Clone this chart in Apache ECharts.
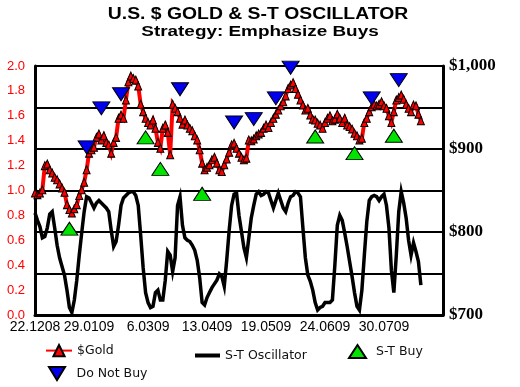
<!DOCTYPE html>
<html><head><meta charset="utf-8">
<script src="https://cdn.jsdelivr.net/npm/echarts@6/dist/echarts.min.js"></script>
<style>html,body{margin:0;padding:0;background:#fff}#c{width:520px;height:387px}</style>
</head><body><div id="c"></div><script>
const titleText = "U.S. $ GOLD & S-T OSCILLATOR";
const subtitleText = "Strategy: Emphasize Buys";
const categoryCount = 167;
const tickIndex = [0, 22, 46, 70, 94, 118, 142];
const tickLabels = ["22.1208", "29.0109", "6.0309", "13.0409", "19.0509", "24.0609", "30.0709"];
const gold = [
  847,845,847,851,880,882,875,871,866,863,
  858,853,848,833,827,823,828,833,844,851,
  860,875,895,899,902,914,918,911,916,908,
  905,895,908,914,937,941,937,959,981,988,
  985,983,976,954,945,937,932,929,935,925,
  908,901,925,929,920,893,954,949,945,937,
  930,935,929,925,922,916,911,899,883,875,
  878,881,887,890,883,875,873,881,888,896,
  905,907,901,895,890,887,889,911,910,912,
  916,918,920,925,929,926,932,937,942,947,
  952,957,964,973,977,980,973,966,959,953,
  947,949,941,936,935,931,929,925,932,937,
  940,934,936,942,937,932,937,929,927,924,
  919,916,911,913,932,937,945,951,954,952,
  954,957,952,949,940,932,945,959,962,965,
  960,954,949,945,953,952,942,934
];
const oscillator = [
  0.82,0.76,0.71,0.62,0.63,0.70,0.81,0.83,0.70,0.56,
  0.46,0.39,0.32,0.20,0.06,0.02,0.12,0.28,0.48,0.66,
  0.83,0.95,0.94,0.90,0.86,0.90,0.92,0.90,0.88,0.86,
  0.83,0.68,0.55,0.59,0.72,0.88,0.94,0.96,0.98,0.99,
  0.99,0.96,0.88,0.64,0.38,0.18,0.10,0.06,0.07,0.18,
  0.20,0.12,0.12,0.28,0.51,0.48,0.35,0.46,0.88,0.95,
  0.72,0.62,0.60,0.59,0.56,0.52,0.44,0.30,0.10,0.08,
  0.14,0.18,0.22,0.25,0.28,0.33,0.31,0.23,0.44,0.68,
  0.88,0.97,0.98,0.80,0.67,0.54,0.46,0.62,0.78,0.88,
  0.97,0.99,0.96,0.97,0.99,0.98,0.92,0.86,0.92,0.98,
  0.92,0.86,0.83,0.90,0.95,0.96,0.99,0.98,0.95,0.70,
  0.46,0.32,0.27,0.20,0.10,0.04,0.06,0.07,0.10,0.10,
  0.10,0.12,0.40,0.72,0.80,0.76,0.66,0.55,0.43,0.31,
  0.18,0.07,0.04,0.20,0.48,0.75,0.92,0.95,0.96,0.95,
  0.92,0.95,0.97,0.88,0.70,0.36,0.18,0.48,0.83,0.99,
  0.90,0.78,0.60,0.48,0.58,0.51,0.43,0.24
];
const buyIndex = [14, 45, 51, 68, 114, 130, 146];
const buyValue = [804, 914, 876, 846, 915, 895, 916];
const noBuyIndex = [21, 27, 35, 59, 81, 89, 98, 104, 137, 148];
const noBuyValue = [902, 949, 966, 972, 932, 936, 961, 998, 961, 983];

const categories = [];
for (let i = 0; i < categoryCount; i++) categories.push(String(i));
const buyPts = buyIndex.map((x, k) => [x, buyValue[k]]);
const noBuyPts = noBuyIndex.map((x, k) => [x, noBuyValue[k]]);

function dollar(v) {
  return '$' + String(v).replace(/\B(?=(\d{3})+(?!\d))/g, ',');
}

const legendText = { fontFamily: 'DejaVu Sans', fontSize: 12.5, color: '#111' };

const chart = echarts.init(document.getElementById('c'), null, { renderer: 'canvas' });
chart.setOption({
  animation: false,
  backgroundColor: '#fff',
  graphic: [
    { type: 'text', x: 258, y: 15, scaleX: 1.21, style: { text: titleText, fontFamily: 'Liberation Sans', fontWeight: 'bold', fontSize: 16, fill: '#000', textAlign: 'center', textVerticalAlign: 'middle', align: 'center', verticalAlign: 'middle' } },
    { type: 'text', x: 260, y: 32, scaleX: 1.35, style: { text: subtitleText, fontFamily: 'Liberation Sans', fontWeight: 'bold', fontSize: 14, fill: '#000', textAlign: 'center', textVerticalAlign: 'middle', align: 'center', verticalAlign: 'middle' } }
  ],
  grid: { left: 35, right: 77, top: 66, bottom: 72 },
  legend: [
    { data: ['$Gold'], left: 45, top: 344, padding: 0, itemWidth: 26, itemHeight: 14, textStyle: legendText },
    { data: [{ name: 'S-T Oscillator', icon: 'rect' }], left: 195, top: 349, padding: 0, itemWidth: 25, itemHeight: 4, textStyle: legendText },
    { data: ['S-T Buy'], left: 348, top: 344, padding: 0, itemWidth: 17, itemHeight: 13, textStyle: Object.assign({ padding: [0, 0, 0, 5] }, legendText) },
    { data: ['Do Not Buy'], left: 48, top: 366, padding: 0, itemWidth: 17, itemHeight: 13, textStyle: Object.assign({ padding: [0, 0, 0, 6] }, legendText) }
  ],
  xAxis: {
    type: 'category', data: categories, boundaryGap: false,
    axisLine: { lineStyle: { color: '#000', width: 3 } },
    axisTick: { show: false },
    splitLine: { show: false },
    axisLabel: {
      interval: (i) => tickIndex.indexOf(i) >= 0,
      formatter: (v, i) => { const k = tickIndex.indexOf(i); return k >= 0 ? tickLabels[k] : ''; },
      color: '#000', fontFamily: 'Liberation Sans', fontSize: 14, margin: 5
    }
  },
  yAxis: [
    {
      type: 'value', position: 'left', min: 0, max: 2, interval: 0.2,
      axisLine: { show: true, lineStyle: { color: '#000', width: 3 } },
      axisTick: { show: false },
      splitLine: { show: false },
      axisLabel: { color: '#ff0000', fontFamily: 'Liberation Sans', fontSize: 13, margin: 10, formatter: (v) => v.toFixed(1) }
    },
    {
      type: 'value', position: 'right', min: 700, max: 1000, interval: 50,
      axisLine: { show: true, lineStyle: { color: '#000', width: 3 } },
      axisTick: { show: false },
      splitLine: { show: true, lineStyle: { color: '#000', width: 2 } },
      axisLabel: { color: '#000', fontFamily: 'Liberation Serif', fontWeight: 'bold', fontSize: 17, margin: 6, formatter: (v) => (v % 100 === 0 ? dollar(v) : '') }
    }
  ],
  series: [
    { name: 'S-T Oscillator', type: 'line', yAxisIndex: 0, data: oscillator, symbol: 'none', smooth: false, z: 2,
      lineStyle: { color: '#000', width: 3.5, join: 'miter' }, itemStyle: { color: '#000' } },
    { name: '$Gold', type: 'line', yAxisIndex: 1, data: gold, symbol: 'triangle', symbolSize: [7, 8], smooth: false, showAllSymbol: true, z: 3,
      lineStyle: { color: '#ff0000', width: 4, join: 'miter' }, itemStyle: { color: '#ff0000', borderColor: '#000', borderWidth: 1 } },
    { name: 'S-T Buy', type: 'scatter', yAxisIndex: 1, data: buyPts, symbol: 'triangle', symbolSize: [17, 13], z: 4,
      itemStyle: { color: '#00e400', borderColor: '#000', borderWidth: 1, opacity: 1 } },
    { name: 'Do Not Buy', type: 'scatter', yAxisIndex: 1, data: noBuyPts, symbol: 'path://M0,0L16,0L8,13Z', symbolSize: [17, 13], z: 4,
      itemStyle: { color: '#0000ee', borderColor: '#000', borderWidth: 1, opacity: 1 } }
  ]
});
</script></body></html>
